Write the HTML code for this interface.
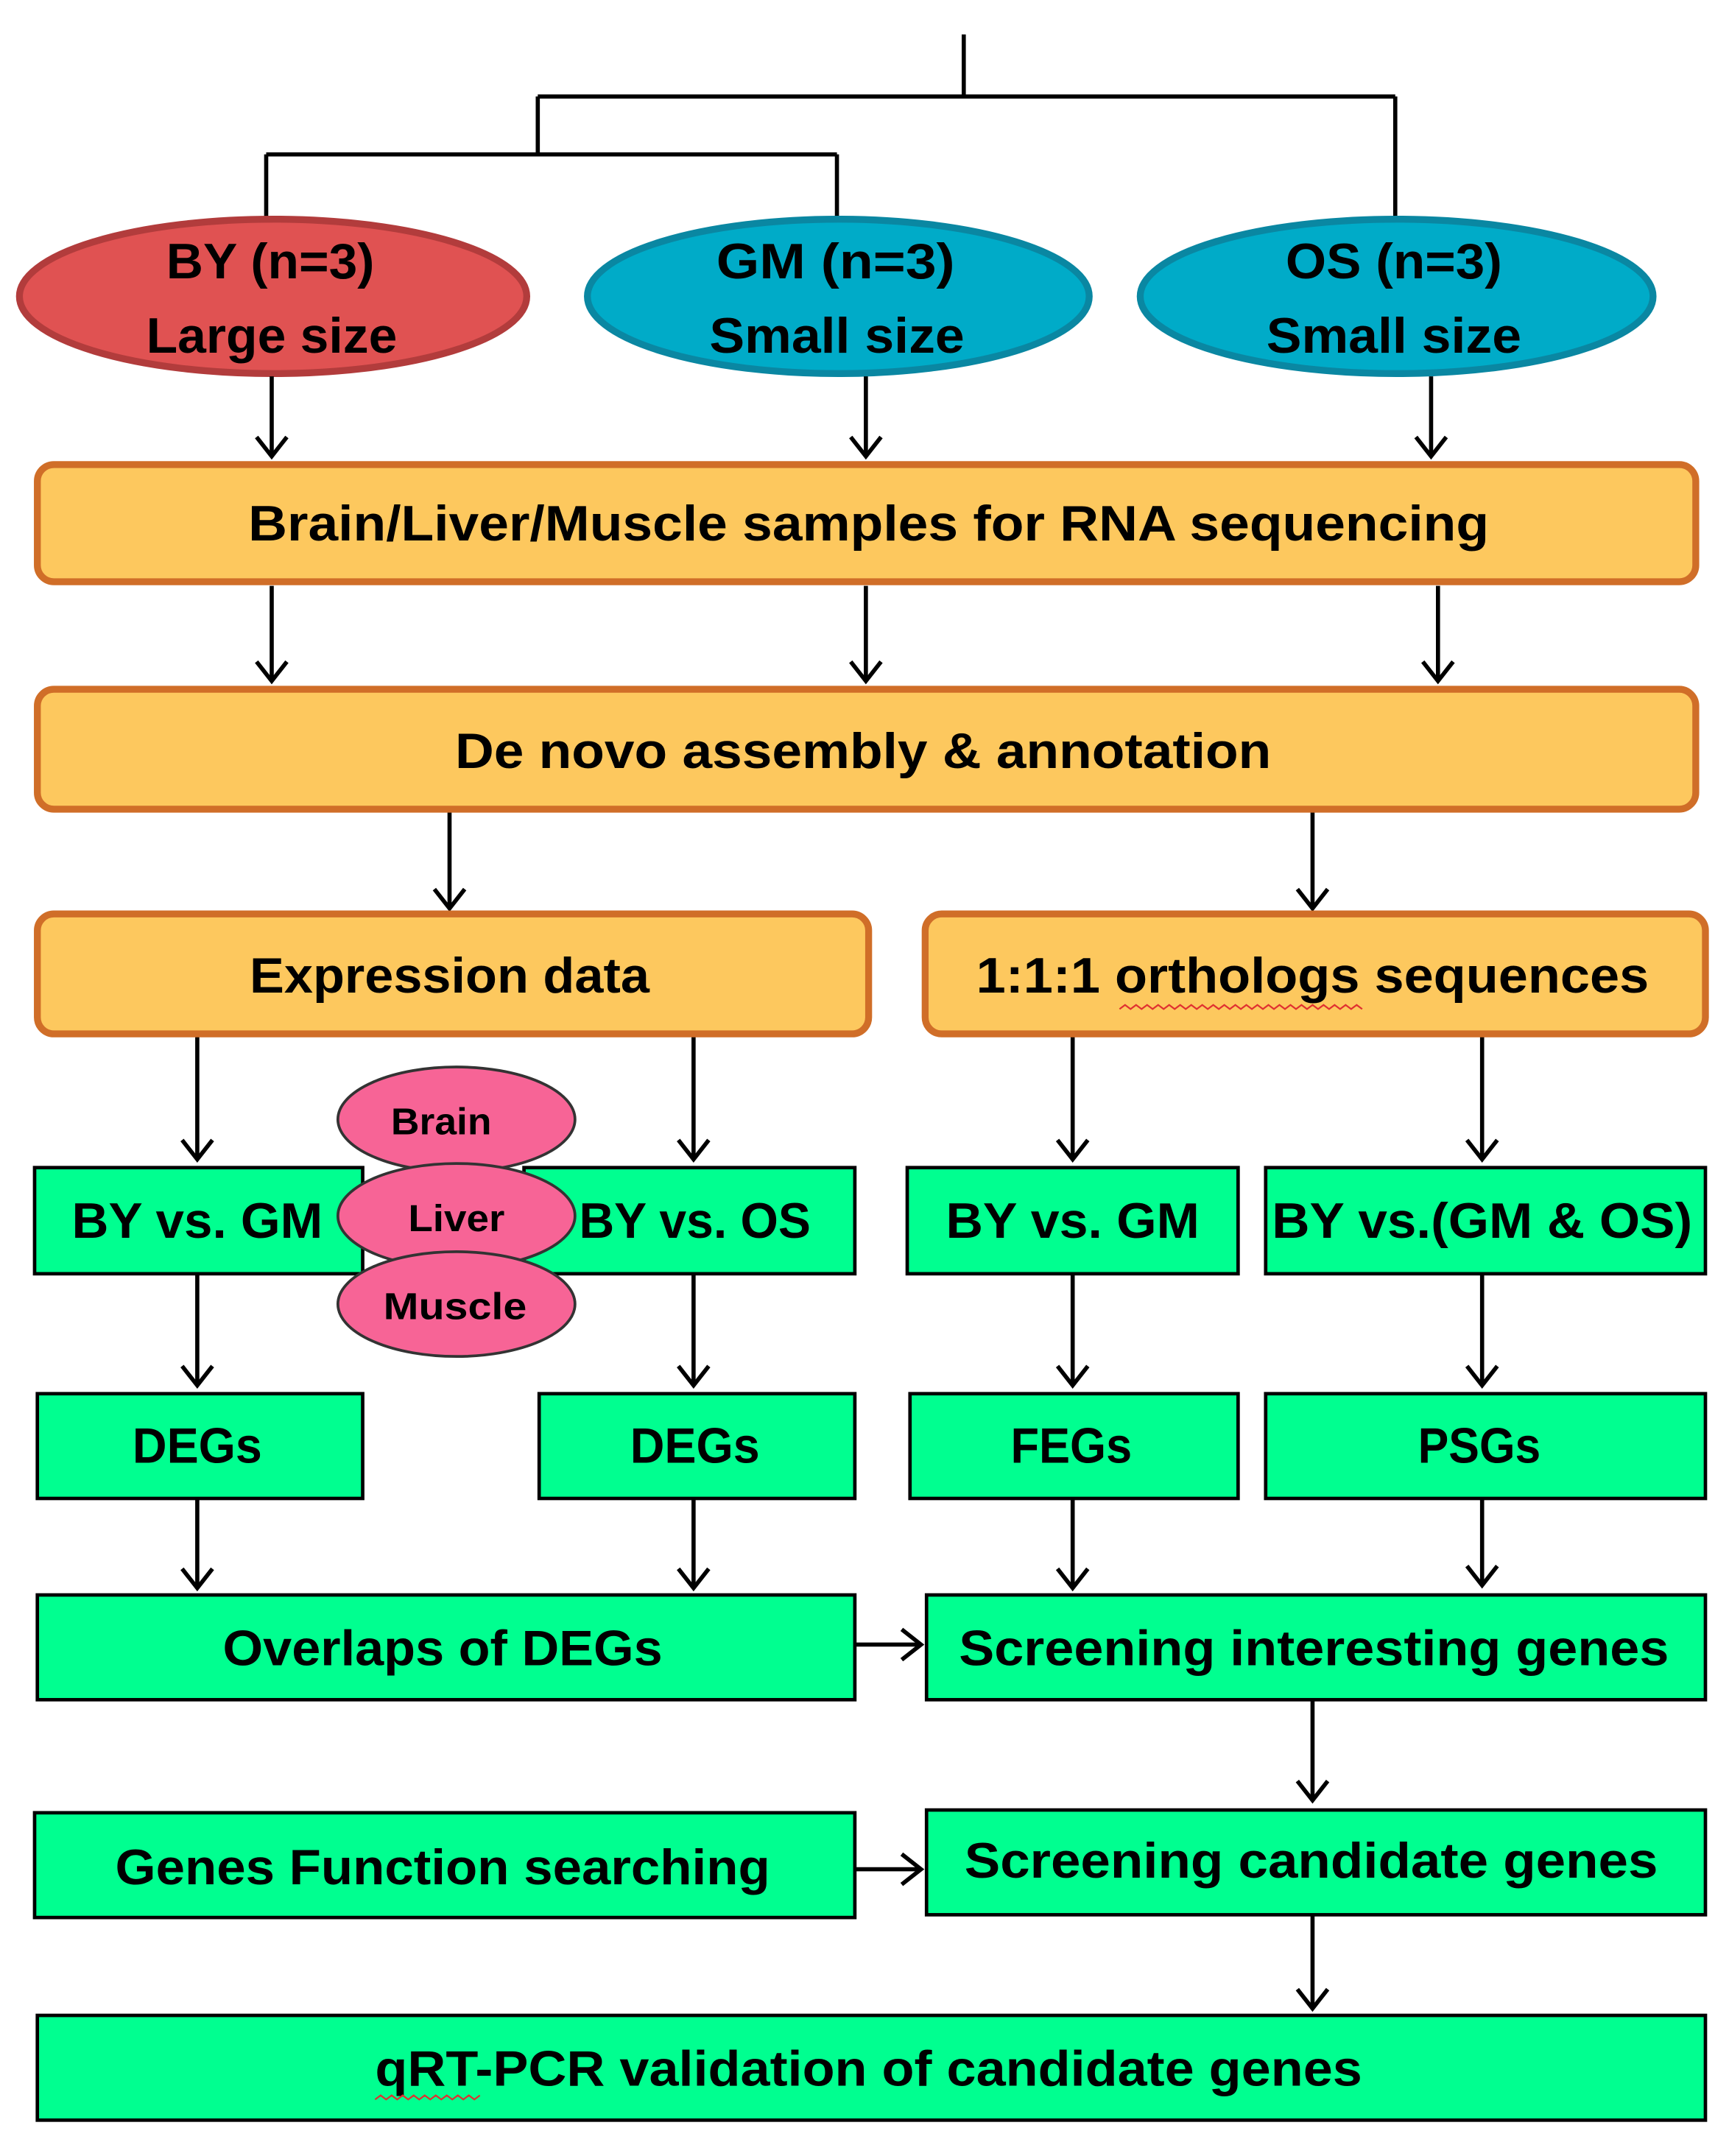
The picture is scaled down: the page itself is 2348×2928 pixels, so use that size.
<!DOCTYPE html>
<html><head><meta charset="utf-8"><style>html,body{margin:0;padding:0;background:#fff}svg{display:block}</style></head>
<body>
<svg width="2348" height="2928" viewBox="0 0 1254 1564" xmlns="http://www.w3.org/2000/svg" font-family="Liberation Sans, sans-serif" font-weight="bold">
<defs>
<marker id="a" markerWidth="18" markerHeight="26" refX="15" refY="13" orient="auto" markerUnits="userSpaceOnUse">
<polyline points="1,2 15,13 1,24" fill="none" stroke="#000" stroke-width="3"/>
</marker>
</defs>
<g stroke="#000" stroke-width="3" fill="none">
<polyline points="699,25 699,70"/>
<polyline points="390,70 1012,70"/>
<polyline points="390,70 390,112"/>
<polyline points="193,112 607,112"/>
<polyline points="193,112 193,162"/>
<polyline points="607,112 607,162"/>
<polyline points="1012,70 1012,162"/>
</g>
<ellipse cx="198" cy="215" rx="184" ry="56" fill="#E05252" stroke="#B23C3C" stroke-width="5"/>
<ellipse cx="608" cy="215" rx="182" ry="56" fill="#00ABC8" stroke="#0A87A2" stroke-width="5"/>
<ellipse cx="1013" cy="215" rx="186" ry="56" fill="#00ABC8" stroke="#0A87A2" stroke-width="5"/>
<g font-size="36" fill="#000" text-anchor="middle">
<text x="196" y="202" textLength="151" lengthAdjust="spacingAndGlyphs">BY (n=3)</text>
<text x="197" y="256" textLength="182" lengthAdjust="spacingAndGlyphs">Large size</text>
<text x="606" y="202" textLength="173" lengthAdjust="spacingAndGlyphs">GM (n=3)</text>
<text x="607" y="256" textLength="185" lengthAdjust="spacingAndGlyphs">Small size</text>
<text x="1011" y="202" textLength="157" lengthAdjust="spacingAndGlyphs">OS (n=3)</text>
<text x="1011" y="256" textLength="185" lengthAdjust="spacingAndGlyphs">Small size</text>
</g>
<g stroke="#000" stroke-width="3" marker-end="url(#a)">
<line x1="197" y1="273" x2="197" y2="331"/>
<line x1="628" y1="273" x2="628" y2="331"/>
<line x1="1038" y1="273" x2="1038" y2="331"/>
<line x1="197" y1="425" x2="197" y2="494"/>
<line x1="628" y1="425" x2="628" y2="494"/>
<line x1="1043" y1="425" x2="1043" y2="494"/>
<line x1="326" y1="588" x2="326" y2="659"/>
<line x1="952" y1="588" x2="952" y2="659"/>
<line x1="143" y1="750" x2="143" y2="841"/>
<line x1="503" y1="750" x2="503" y2="841"/>
<line x1="778" y1="750" x2="778" y2="841"/>
<line x1="1075" y1="750" x2="1075" y2="841"/>
<line x1="143" y1="924" x2="143" y2="1005"/>
<line x1="503" y1="924" x2="503" y2="1005"/>
<line x1="778" y1="924" x2="778" y2="1005"/>
<line x1="1075" y1="924" x2="1075" y2="1005"/>
<line x1="143" y1="1087" x2="143" y2="1152"/>
<line x1="503" y1="1087" x2="503" y2="1152"/>
<line x1="778" y1="1087" x2="778" y2="1152"/>
<line x1="1075" y1="1087" x2="1075" y2="1150"/>
<line x1="620" y1="1193" x2="668" y2="1193"/>
<line x1="952" y1="1234" x2="952" y2="1306"/>
<line x1="620" y1="1356" x2="668" y2="1356"/>
<line x1="952" y1="1390" x2="952" y2="1457"/>
</g>
<g fill="#FDC85E" stroke="#D06E28" stroke-width="5">
<rect x="27" y="337" width="1203" height="85" rx="12"/>
<rect x="27" y="500" width="1203" height="87" rx="12"/>
<rect x="27" y="663" width="603" height="87" rx="12"/>
<rect x="671" y="663" width="566" height="87" rx="12"/>
</g>
<g font-size="36" fill="#000" text-anchor="middle">
<text x="630" y="392" textLength="900" lengthAdjust="spacingAndGlyphs">Brain/Liver/Muscle samples for RNA sequencing</text>
<text x="626" y="557" textLength="592" lengthAdjust="spacingAndGlyphs">De novo assembly &amp; annotation</text>
<text x="326" y="720" textLength="290" lengthAdjust="spacingAndGlyphs">Expression data</text>
<text x="952" y="720" textLength="488" lengthAdjust="spacingAndGlyphs">1:1:1 orthologs sequences</text>
</g>
<g fill="#00FF90" stroke="#000" stroke-width="2.5">
<rect x="25" y="847" width="238" height="77"/>
<rect x="380" y="847" width="240" height="77"/>
<rect x="658" y="847" width="240" height="77"/>
<rect x="918" y="847" width="319" height="77"/>
<rect x="27" y="1011" width="236" height="76"/>
<rect x="391" y="1011" width="229" height="76"/>
<rect x="660" y="1011" width="238" height="76"/>
<rect x="918" y="1011" width="319" height="76"/>
<rect x="27" y="1157" width="593" height="76"/>
<rect x="672" y="1157" width="565" height="76"/>
<rect x="25" y="1315" width="595" height="76"/>
<rect x="672" y="1313" width="565" height="76"/>
<rect x="27" y="1462" width="1210" height="76"/>
</g>
<g fill="#F76496" stroke="#333" stroke-width="2">
<ellipse cx="331" cy="812" rx="86" ry="38"/>
<ellipse cx="331" cy="882" rx="86" ry="38"/>
<ellipse cx="331" cy="946" rx="86" ry="38"/>
</g>
<g font-size="27" fill="#000" text-anchor="middle">
<text x="320" y="823" textLength="73" lengthAdjust="spacingAndGlyphs">Brain</text>
<text x="331" y="893" textLength="70" lengthAdjust="spacingAndGlyphs">Liver</text>
<text x="330" y="957" textLength="104" lengthAdjust="spacingAndGlyphs">Muscle</text>
</g>
<g font-size="36" fill="#000" text-anchor="middle">
<text x="143" y="898" textLength="182" lengthAdjust="spacingAndGlyphs">BY vs. GM</text>
<text x="504" y="898" textLength="168" lengthAdjust="spacingAndGlyphs">BY vs. OS</text>
<text x="778" y="898" textLength="184" lengthAdjust="spacingAndGlyphs">BY vs. GM</text>
<text x="1075" y="898" textLength="305" lengthAdjust="spacingAndGlyphs">BY vs.(GM &amp; OS)</text>
<text x="143" y="1061" textLength="94" lengthAdjust="spacingAndGlyphs">DEGs</text>
<text x="504" y="1061" textLength="94" lengthAdjust="spacingAndGlyphs">DEGs</text>
<text x="777" y="1061" textLength="88" lengthAdjust="spacingAndGlyphs">FEGs</text>
<text x="1073" y="1061" textLength="89" lengthAdjust="spacingAndGlyphs">PSGs</text>
<text x="321" y="1208" textLength="319" lengthAdjust="spacingAndGlyphs">Overlaps of DEGs</text>
<text x="953" y="1208" textLength="515" lengthAdjust="spacingAndGlyphs">Screening interesting genes</text>
<text x="321" y="1367" textLength="475" lengthAdjust="spacingAndGlyphs">Genes Function searching</text>
<text x="951" y="1362" textLength="503" lengthAdjust="spacingAndGlyphs">Screening  candidate genes</text>
<text x="630" y="1513" textLength="716" lengthAdjust="spacingAndGlyphs">qRT-PCR validation of candidate genes</text>
</g>
<g fill="none" stroke="#E03030" stroke-width="1.2">
<polyline points="812,732 816,729 820,732 824,729 828,732 832,729 836,732 840,729 844,732 848,729 852,732 856,729 860,732 864,729 868,732 872,729 876,732 880,729 884,732 888,729 892,732 896,729 900,732 904,729 908,732 912,729 916,732 920,729 924,732 928,729 932,732 936,729 940,732 944,729 948,732 952,729 956,732 960,729 964,732 968,729 972,732 976,729 980,732 984,729 988,732"/>
<polyline points="272,1523 276,1520 280,1523 284,1520 288,1523 292,1520 296,1523 300,1520 304,1523 308,1520 312,1523 316,1520 320,1523 324,1520 328,1523 332,1520 336,1523 340,1520 344,1523 348,1520"/>
</g>
</svg>
</body></html>
